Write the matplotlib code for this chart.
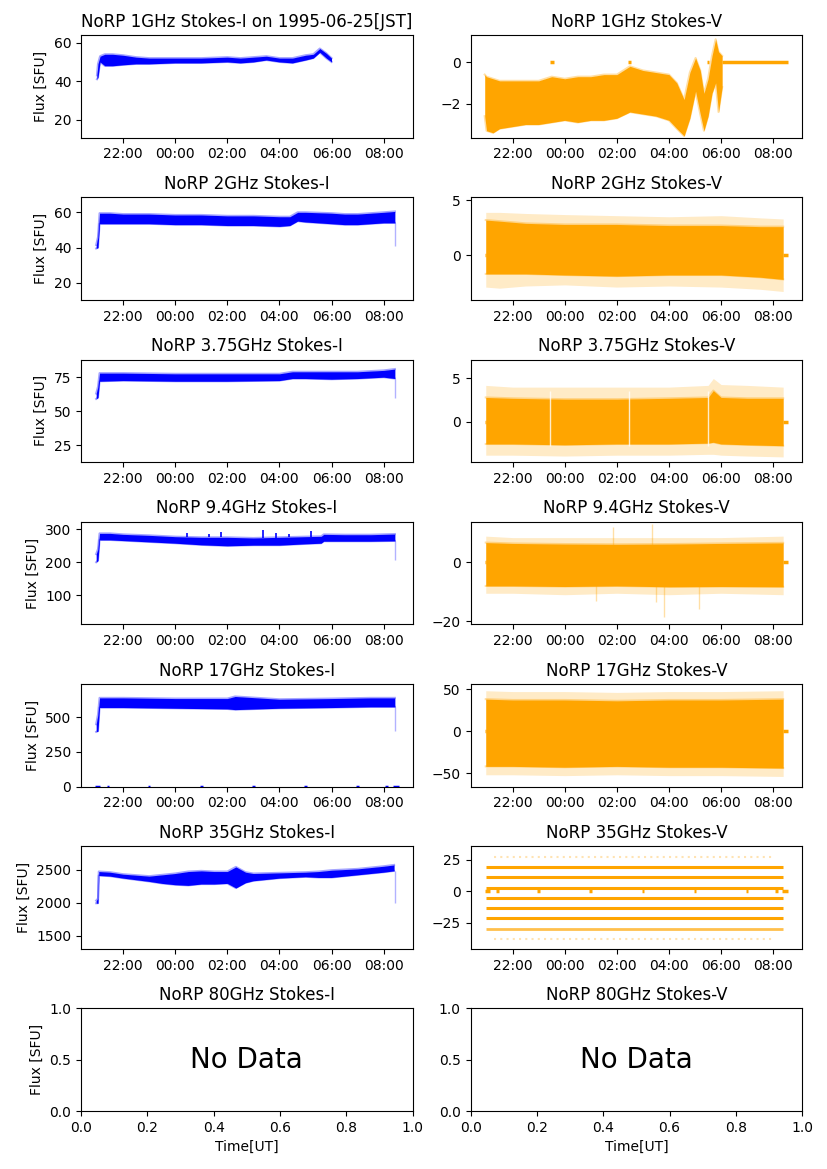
from datetime import datetime
import numpy as np
import matplotlib
matplotlib.use("Agg")
from matplotlib import pyplot as plt
import matplotlib.dates as mdates

# times are hours since 1995-06-24 00:00 UT (24 = 00:00 on 06-25)
x_range = (20.39, 33.11)

# ---- Stokes-I bands (blue) ----
t_1i = [21.0, 21.04, 21.12, 21.3, 21.6, 22.0, 22.5, 23.0, 24.0, 25.0, 26.0, 26.5, 27.0, 27.5, 28.0, 28.5, 29.0, 29.3, 29.55, 29.8, 30.0]
hi_1i = [43, 49, 53, 54, 54, 53.5, 52.5, 52, 52, 52, 52.5, 52, 52.5, 53, 52, 52, 53.5, 54, 57, 54.5, 52]
lo_1i = [41, 42, 50, 48, 48, 48.5, 49, 49, 49.5, 49.5, 50, 49.5, 50, 51, 50, 49.5, 51, 52, 55, 52, 50]

t_2i = [20.97, 21.04, 21.1, 21.5, 22.0, 23.0, 24.0, 25.0, 26.0, 27.0, 28.0, 28.4, 28.7, 29.0, 30.0, 30.5, 31.0, 31.5, 32.0, 32.43]
hi_2i = [41.5, 46, 59.5, 59.5, 59, 59, 58.5, 58.5, 58, 58, 57.5, 57.5, 60, 60, 59.5, 59, 59, 59.5, 60, 60.5]
lo_2i = [39.5, 40, 53.5, 53.5, 53.5, 53.5, 53, 53, 52.5, 52.5, 52, 52.5, 55, 54.5, 53.5, 53, 53, 53.5, 54, 54]

t_3i = [20.97, 21.04, 21.1, 22.0, 24.0, 26.0, 28.0, 28.5, 29.0, 30.0, 31.0, 32.0, 32.43]
hi_3i = [63, 68, 78, 78, 77.5, 77.5, 77.5, 79, 79, 79, 79, 80, 81]
lo_3i = [59, 60, 72, 72.5, 72, 72, 72.5, 74, 74, 73.5, 74, 75, 74]

t_9i = [20.97, 21.04, 21.1, 21.5, 22.0, 23.0, 24.0, 25.0, 26.0, 27.0, 28.0, 29.0, 29.6, 29.7, 30.5, 31.5, 32.43]
hi_9i = [225, 240, 288, 288, 285, 282, 278, 276, 276, 274, 276, 278, 279, 285, 284, 284, 286]
lo_9i = [200, 205, 268, 268, 266, 262, 258, 253, 250, 252, 252, 256, 258, 264, 264, 264, 265]
spike_t_9i = [24.47, 25.3, 25.77, 27.37, 27.88, 28.35, 29.2]
spike_lo_9i = [276, 276, 276, 274, 275, 276, 278]
spike_hi_9i = [288, 286, 293, 299, 288, 285, 294]

t_17i = [20.97, 21.04, 21.1, 22.0, 24.0, 26.0, 26.3, 28.0, 30.0, 31.5, 32.43]
hi_17i = [450, 520, 640, 640, 635, 635, 650, 630, 635, 640, 640]
lo_17i = [395, 400, 570, 570, 565, 560, 555, 565, 570, 575, 575]

t_35i = [20.97, 21.04, 21.07, 21.5, 22.0, 23.0, 23.5, 24.0, 24.5, 25.0, 25.5, 26.0, 26.33, 26.7, 27.0, 28.0, 29.0, 29.5, 30.0, 30.5, 31.0, 31.5, 32.0, 32.4]
hi_35i = [2030, 2060, 2470, 2460, 2430, 2400, 2420, 2440, 2470, 2480, 2470, 2470, 2540, 2460, 2440, 2450, 2460, 2470, 2490, 2500, 2510, 2530, 2550, 2570]
lo_35i = [1990, 1990, 2410, 2400, 2370, 2320, 2290, 2270, 2260, 2280, 2280, 2290, 2220, 2300, 2330, 2370, 2390, 2380, 2380, 2400, 2420, 2440, 2460, 2480]

# sparse points falling off at the end of the Stokes-I records
drop_t = 32.43
drop_2i, drop_3i, drop_9i, drop_17i, drop_35i = 41, 60, 208, 400, 2000

# ---- Stokes-V bands (orange) ----
t_1v = [20.93, 21.0, 21.25, 21.5, 22.0, 22.5, 23.0, 23.5, 24.0, 24.5, 25.0, 25.5, 26.0, 26.5, 27.0, 27.5, 28.0, 28.3, 28.58, 28.8, 29.02, 29.2, 29.34, 29.5, 29.65, 29.79, 29.9, 30.04]
hi_1v = [-0.6, -0.7, -0.8, -0.9, -0.9, -0.9, -0.9, -0.7, -0.8, -0.7, -0.7, -0.6, -0.6, -0.2, -0.4, -0.5, -0.6, -1.0, -1.8, -0.5, 0.2, -0.4, -1.5, -0.8, 0.3, 1.1, 0.5, 0.3]
lo_1v = [-2.6, -3.3, -3.4, -3.2, -3.1, -3.0, -3.0, -2.9, -2.8, -2.9, -2.8, -2.8, -2.7, -2.4, -2.5, -2.6, -2.8, -3.2, -3.55, -2.7, -1.4, -2.5, -3.3, -2.6, -1.5, -1.0, -2.4, -1.2]

t_2v = [20.97, 21.5, 22.5, 24.0, 26.0, 28.0, 30.0, 31.5, 32.38]
hi_2v = [3.2, 3.1, 2.9, 2.8, 2.8, 2.7, 2.7, 2.6, 2.6]
lo_2v = [-1.7, -1.7, -1.7, -1.8, -1.9, -1.8, -1.8, -2.0, -2.2]
hi_out_2v = [3.9, 3.9, 3.8, 3.7, 3.6, 3.5, 3.6, 3.4, 3.3]
lo_out_2v = [-2.9, -3.0, -2.8, -2.7, -2.9, -2.8, -2.9, -3.1, -3.3]

t_3v = [20.97, 22.0, 24.0, 26.0, 28.0, 29.5, 29.7, 30.0, 31.0, 32.38]
hi_3v = [2.8, 2.7, 2.6, 2.6, 2.7, 2.8, 3.6, 2.8, 2.7, 2.7]
lo_3v = [-2.6, -2.6, -2.7, -2.6, -2.6, -2.5, -2.4, -2.6, -2.7, -2.8]
hi_out_3v = [4.2, 4.0, 4.0, 4.0, 4.0, 4.2, 5.0, 4.3, 4.2, 4.0]
lo_out_3v = [-3.9, -3.9, -4.0, -3.9, -3.9, -3.8, -3.8, -3.9, -4.0, -4.1]
gaps_3v = [23.45, 26.47, 29.5]

t_9v = [20.97, 22.0, 24.0, 26.0, 28.0, 30.0, 32.38]
hi_9v = [6.8, 6.5, 6.3, 6.2, 6.3, 6.5, 6.7]
lo_9v = [-8.0, -8.0, -8.2, -8.0, -8.3, -8.2, -8.3]
hi_out_9v = [9, 8.5, 8.5, 8.5, 8.5, 8.5, 9]
lo_out_9v = [-10.5, -10.5, -11, -10.5, -11, -10.5, -11]
out_t_9v = [25.2, 27.5, 27.81, 29.15, 25.84, 27.34]
out_v_9v = [-13, -13.5, -18.5, -16, 12, 13]

t_17v = [20.97, 22.0, 24.0, 26.0, 28.0, 30.0, 32.38]
hi_17v = [38, 37, 37, 36, 37, 37, 38]
lo_17v = [-42, -42, -43, -42, -43, -43, -44]
hi_out_17v = [48, 47, 47, 46, 47, 47, 48]
lo_out_17v = [-52, -52, -53, -52, -53, -53, -54]

# 35GHz Stokes-V is quantised onto a few levels
levels_35v = [19.5, 11.1, 2.9, -5.2, -13.3, -21.6]
level_mid_35v = -29.8
levels_sparse_35v = [27.6, -37.8]
span_35v = (20.97, 32.38)

# zero-valued (flagged) samples
zeros_ends = [(20.93, 20.98), (32.38, 32.57)]
zeros_1v = [(23.44, 23.58), (26.44, 26.56), (29.44, 29.55), (30.02, 32.57)]
zeros_hourly = [(20.93, 21.12), (21.37, 21.47), (22.95, 23.05), (24.95, 25.05), (26.95, 27.05),
                (28.95, 29.05), (30.95, 31.05), (32.07, 32.17), (32.34, 32.57)]

ylims = {
    "1i": (10.6, 64.0), "1v": (-3.63, 1.30),
    "2i": (10.4, 68.5), "2v": (-4.06, 5.27),
    "3i": (12.5, 88.0), "3v": (-4.7, 7.2),
    "9i": (10.7, 323.4), "9v": (-21.1, 13.9),
    "17i": (0, 740), "17v": (-66, 56),
    "35i": (1300, 2853), "35v": (-46, 36),
}

base = mdates.date2num(datetime(1995, 6, 24))


def tt(h):
    return base + np.asarray(h, dtype=float) / 24.0


def band(ax, t, lo, hi, color, lo_out=None, hi_out=None):
    if lo_out is not None:
        ax.fill_between(tt(t), lo_out, hi_out, color=color, alpha=0.22, lw=0)
    ax.fill_between(tt(t), lo, hi, color=color, lw=0)
    ax.plot(tt(t), hi, color=color, lw=1.5, alpha=0.35)
    ax.plot(tt(t), lo, color=color, lw=1.5, alpha=0.35)


def zeros(ax, segs, color):
    for a, b in segs:
        ax.hlines(0, tt(a), tt(b), color=color, lw=2.5)


plt.rcParams['font.size'] = 10
fig = plt.figure(figsize=(8.27, 11.69), dpi=100)
axs = fig.subplots(7, 2)
fig.subplots_adjust(left=0.098, right=0.97, top=0.97, bottom=0.0496, wspace=0.175, hspace=0.582)

B = "blue"
O = "orange"

# row 1 - 1GHz
ax = axs[0, 0]
band(ax, t_1i, lo_1i, hi_1i, B)
ax.set_title("NoRP 1GHz Stokes-I on 1995-06-25[JST]", fontsize=12)
ax.set_ylim(ylims["1i"])
ax = axs[0, 1]
band(ax, t_1v, lo_1v, hi_1v, O)
zeros(ax, zeros_1v, O)
ax.set_title("NoRP 1GHz Stokes-V", fontsize=12)
ax.set_ylim(ylims["1v"])

# row 2 - 2GHz
ax = axs[1, 0]
band(ax, t_2i, lo_2i, hi_2i, B)
ax.vlines(tt(drop_t), drop_2i, lo_2i[-1], color=B, lw=1, alpha=0.3)
ax.set_title("NoRP 2GHz Stokes-I", fontsize=12)
ax.set_ylim(ylims["2i"])
ax = axs[1, 1]
band(ax, t_2v, lo_2v, hi_2v, O, lo_out_2v, hi_out_2v)
zeros(ax, zeros_ends, O)
ax.set_title("NoRP 2GHz Stokes-V", fontsize=12)
ax.set_ylim(ylims["2v"])

# row 3 - 3.75GHz
ax = axs[2, 0]
band(ax, t_3i, lo_3i, hi_3i, B)
ax.vlines(tt(drop_t), drop_3i, lo_3i[-1], color=B, lw=1, alpha=0.3)
ax.set_title("NoRP 3.75GHz Stokes-I", fontsize=12)
ax.set_ylim(ylims["3i"])
ax = axs[2, 1]
band(ax, t_3v, lo_3v, hi_3v, O, lo_out_3v, hi_out_3v)
ax.vlines(tt(gaps_3v), min(lo_3v), max(hi_3v), color="white", lw=1, alpha=0.8)
zeros(ax, zeros_ends, O)
ax.set_title("NoRP 3.75GHz Stokes-V", fontsize=12)
ax.set_ylim(ylims["3v"])

# row 4 - 9.4GHz
ax = axs[3, 0]
band(ax, t_9i, lo_9i, hi_9i, B)
ax.vlines(tt(spike_t_9i), spike_lo_9i, spike_hi_9i, color=B, lw=1.2)
ax.vlines(tt(drop_t), drop_9i, lo_9i[-1], color=B, lw=1, alpha=0.3)
ax.set_title("NoRP 9.4GHz Stokes-I", fontsize=12)
ax.set_ylim(ylims["9i"])
ax = axs[3, 1]
band(ax, t_9v, lo_9v, hi_9v, O, lo_out_9v, hi_out_9v)
ax.vlines(tt(out_t_9v), 0, out_v_9v, color=O, lw=1, alpha=0.35)
zeros(ax, zeros_ends, O)
ax.set_title("NoRP 9.4GHz Stokes-V", fontsize=12)
ax.set_ylim(ylims["9v"])

# row 5 - 17GHz
ax = axs[4, 0]
band(ax, t_17i, lo_17i, hi_17i, B)
ax.vlines(tt(drop_t), drop_17i, lo_17i[-1], color=B, lw=1, alpha=0.3)
zeros(ax, zeros_hourly, B)
ax.set_title("NoRP 17GHz Stokes-I", fontsize=12)
ax.set_ylim(ylims["17i"])
ax = axs[4, 1]
band(ax, t_17v, lo_17v, hi_17v, O, lo_out_17v, hi_out_17v)
zeros(ax, zeros_ends, O)
ax.set_title("NoRP 17GHz Stokes-V", fontsize=12)
ax.set_ylim(ylims["17v"])

# row 6 - 35GHz
ax = axs[5, 0]
band(ax, t_35i, lo_35i, hi_35i, B)
ax.vlines(tt(drop_t), drop_35i, lo_35i[-1], color=B, lw=1, alpha=0.3)
ax.set_title("NoRP 35GHz Stokes-I", fontsize=12)
ax.set_ylim(ylims["35i"])
ax = axs[5, 1]
ax.hlines(levels_35v, tt(span_35v[0]), tt(span_35v[1]), color=O, lw=2.2)
ax.hlines(level_mid_35v, tt(span_35v[0]), tt(span_35v[1]), color=O, lw=2.0, alpha=0.7)
ax.hlines(levels_sparse_35v, tt(span_35v[0] + 0.3), tt(span_35v[1] - 0.3), color=O, lw=1.5,
          alpha=0.3, linestyles=(0, (1, 2)))
zeros(ax, zeros_hourly, O)
ax.set_title("NoRP 35GHz Stokes-V", fontsize=12)
ax.set_ylim(ylims["35v"])

for row in range(6):
    for col in range(2):
        ax = axs[row, col]
        ax.set_xlim(tt(x_range[0]), tt(x_range[1]))
        ax.xaxis.set_major_locator(mdates.HourLocator(byhour=range(0, 24, 2)))
        ax.xaxis.set_major_formatter(mdates.DateFormatter("%H:%M"))

# row 7 - 80GHz, no data
axs[6, 0].set_title("NoRP 80GHz Stokes-I", fontsize=12)
axs[6, 1].set_title("NoRP 80GHz Stokes-V", fontsize=12)
for ax in axs[6]:
    ax.text(0.5, 0.5, "No Data", transform=ax.transAxes, ha="center", va="center", fontsize=20)
    ax.set_xlabel("Time[UT]")

for ax in axs[:, 0]:
    ax.set_ylabel("Flux [SFU]")

fig.savefig("out.png", dpi=100)
